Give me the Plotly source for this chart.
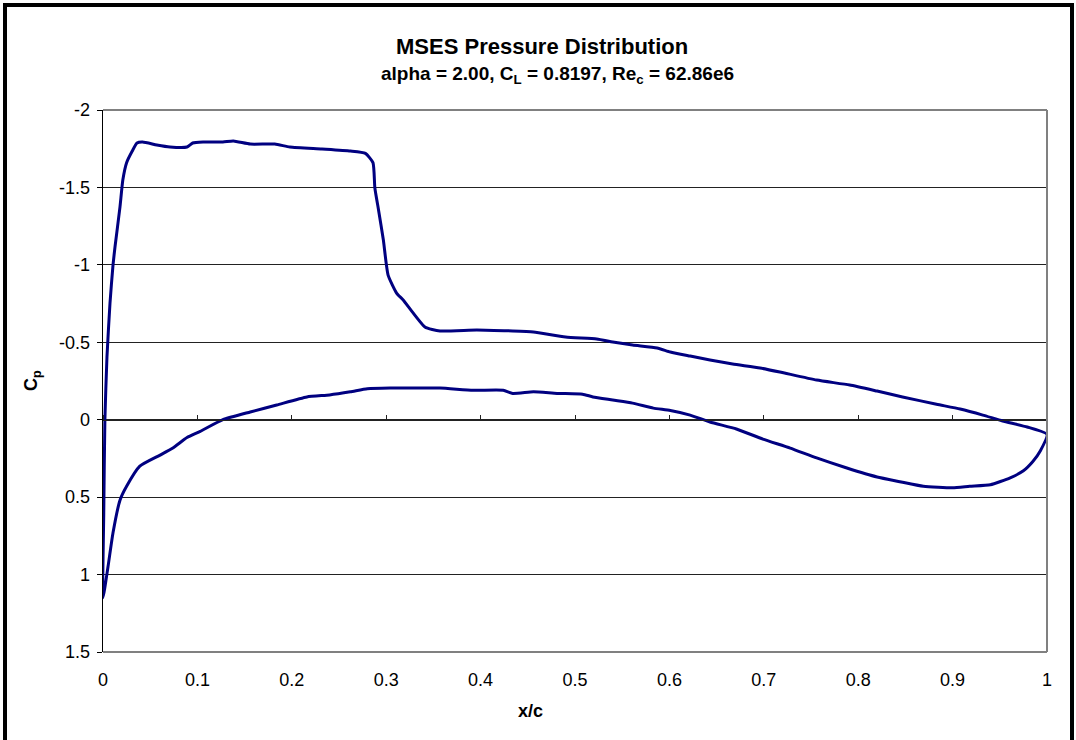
import plotly.graph_objects as go

# Upper surface: trailing edge -> leading edge
x_upper = [1.0, 0.979, 0.953, 0.932, 0.908, 0.883, 0.847, 0.82, 0.791, 0.756, 0.717, 0.696,
           0.667, 0.643, 0.622, 0.601, 0.587, 0.561, 0.540, 0.523, 0.49, 0.456, 0.434, 0.396,
           0.357, 0.341, 0.318, 0.311, 0.302, 0.297, 0.292, 0.288, 0.286, 0.278, 0.262, 0.232,
           0.198, 0.182, 0.156, 0.138, 0.127, 0.106, 0.095, 0.089, 0.071, 0.057, 0.042, 0.036,
           0.031, 0.025, 0.021, 0.018, 0.0127, 0.0106, 0.0074, 0.0042, 0.002, 0.0008, 0.0]
cp_upper = [0.095, 0.047, 0.008, -0.03, -0.069, -0.10, -0.147, -0.185, -0.224, -0.256, -0.308, -0.334,
            -0.36, -0.386, -0.411, -0.437, -0.463, -0.482, -0.502, -0.521, -0.534, -0.566, -0.573, -0.58,
            -0.573, -0.599, -0.773, -0.818, -0.934, -1.16, -1.35, -1.496, -1.66, -1.72, -1.735, -1.748,
            -1.761, -1.78, -1.78, -1.80, -1.793, -1.793, -1.787, -1.761, -1.761, -1.774, -1.793, -1.787,
            -1.735, -1.66, -1.548, -1.374, -1.115, -0.999, -0.753, -0.405, 0.0, 0.6, 1.15]

# Lower surface: leading edge -> trailing edge
x_lower = [0.0053, 0.0106, 0.018, 0.025, 0.039, 0.060, 0.074, 0.089, 0.103, 0.127, 0.156, 0.184,
           0.216, 0.240, 0.262, 0.280, 0.304, 0.325, 0.357, 0.392, 0.424, 0.434, 0.456, 0.481,
           0.508, 0.519, 0.540, 0.561, 0.583, 0.601, 0.622, 0.643, 0.671, 0.699, 0.728, 0.756,
           0.788, 0.82, 0.844, 0.869, 0.90, 0.918, 0.94, 0.961, 0.975, 0.985, 0.993, 1.0]
cp_lower = [0.95, 0.73, 0.52, 0.43, 0.30, 0.23, 0.183, 0.115, 0.075, 0.0, -0.05, -0.095,
            -0.147, -0.16, -0.18, -0.2, -0.205, -0.205, -0.205, -0.19, -0.19, -0.17, -0.18, -0.17,
            -0.165, -0.147, -0.127, -0.107, -0.075, -0.06, -0.03, 0.015, 0.06, 0.125, 0.183, 0.247,
            0.312, 0.37, 0.40, 0.43, 0.44, 0.43, 0.42, 0.375, 0.33, 0.27, 0.2, 0.095]

x_ticks = [0, 0.1, 0.2, 0.3, 0.4, 0.5, 0.6, 0.7, 0.8, 0.9, 1]
x_tick_labels = ["0", "0.1", "0.2", "0.3", "0.4", "0.5", "0.6", "0.7", "0.8", "0.9", "1"]
y_ticks = [-2, -1.5, -1, -0.5, 0, 0.5, 1, 1.5]
y_tick_labels = ["-2", "-1.5", "-1", "-0.5", "0", "0.5", "1", "1.5"]

title_line1 = "MSES Pressure Distribution"
title_line2 = "alpha = 2.00, C<sub>L</sub> = 0.8197, Re<sub>c</sub> = 62.86e6"

x_all = x_upper + x_lower
cp_all = cp_upper + cp_lower

W, H = 1076, 740
PLOT_L, PLOT_R, PLOT_T, PLOT_B = 103, 1047, 110, 652   # plot area in px
LABEL_EDGE = 90                                         # y tick labels' axis position in px
ML, MR, MT, MB = LABEL_EDGE, W - PLOT_R, PLOT_T, H - PLOT_B
pw, ph = W - ML - MR, H - MT - MB
FONT = "Liberation Sans, Arial, sans-serif"

def px2x(px):
    return (px - ML) / pw

def py2y(py):
    return (H - MB - py) / ph

fig = go.Figure()
fig.add_trace(go.Scatter(x=x_all, y=cp_all, mode="lines",
                         line=dict(color="#000080", width=3, shape="spline", smoothing=0.5),
                         hoverinfo="skip", showlegend=False))
# helper trace (invisible) so the overlay axes with ticks/grid render
fig.add_trace(go.Scatter(x=x_all, y=cp_all, mode="lines", xaxis="x2", yaxis="y2",
                         line=dict(color="rgba(0,0,0,0)", width=0), hoverinfo="skip", showlegend=False))

fig.update_layout(
    width=W, height=H,
    margin=dict(l=ML, r=MR, t=MT, b=MB),
    paper_bgcolor="white", plot_bgcolor="white",
    font=dict(family=FONT, size=18, color="black"),
    xaxis=dict(range=[0, 1], domain=[px2x(PLOT_L), 1], tickvals=x_ticks, ticktext=x_tick_labels,
               showgrid=False, zeroline=False, showline=False,
               ticks="outside", ticklen=11, tickcolor="rgba(0,0,0,0)",
               tickfont=dict(size=18)),
    xaxis2=dict(range=[0, 1], domain=[px2x(PLOT_L), 1], tickvals=x_ticks, overlaying="x",
                anchor="free", position=py2y(420), side="top", showticklabels=False,
                showgrid=False, zeroline=False, showline=True, linecolor="#222222", linewidth=1,
                ticks="outside", ticklen=5, tickcolor="#222222", tickwidth=1),
    # labels-only axis, placed a little left of the plot area
    yaxis=dict(range=[1.5, -2], tickvals=y_ticks, ticktext=y_tick_labels,
               anchor="free", position=0, side="left",
               showgrid=False, zeroline=False, showline=False, ticks="",
               tickfont=dict(size=18)),
    # axis line, tick marks and gridlines at the plot area's left edge
    yaxis2=dict(range=[1.5, -2], tickvals=y_ticks, overlaying="y", anchor="x", side="left",
                showticklabels=False, showgrid=True, gridcolor="#222222", gridwidth=1,
                zeroline=False, showline=True, linecolor="black", linewidth=1,
                ticks="outside", ticklen=5, tickcolor="black", tickwidth=1),
    shapes=[
        # plot area gray frame (top, right, bottom)
        dict(type="line", xref="paper", yref="paper", x0=px2x(PLOT_L), x1=1, y0=1, y1=1,
             line=dict(color="#808080", width=2), layer="above"),
        dict(type="line", xref="paper", yref="paper", x0=px2x(PLOT_L), x1=1, y0=0, y1=0,
             line=dict(color="#808080", width=2), layer="above"),
        dict(type="line", xref="paper", yref="paper", x0=1, x1=1, y0=0, y1=1,
             line=dict(color="#808080", width=2), layer="above"),
        # outer chart border
        dict(type="rect", xref="paper", yref="paper",
             x0=px2x(5), x1=px2x(1072), y0=py2y(745), y1=py2y(5),
             line=dict(color="black", width=4), fillcolor="rgba(0,0,0,0)", layer="above"),
    ],
    annotations=[
        dict(text="<b>" + title_line1 + "</b>", xref="paper", yref="paper",
             x=px2x(542), y=py2y(46), showarrow=False, xanchor="center", yanchor="middle",
             font=dict(family=FONT, size=22, color="black")),
        dict(text="<b>" + title_line2 + "</b>", xref="paper", yref="paper",
             x=px2x(557), y=py2y(75), showarrow=False, xanchor="center", yanchor="middle",
             font=dict(family=FONT, size=19, color="black")),
        dict(text="<b>x/c</b>", xref="paper", yref="paper", x=px2x(530), y=py2y(711),
             showarrow=False, xanchor="center", yanchor="middle",
             font=dict(family=FONT, size=18, color="black")),
        dict(text="<b>C<sub>p</sub></b>", xref="paper", yref="paper", x=px2x(32), y=py2y(381),
             showarrow=False, xanchor="center", yanchor="middle", textangle=-90,
             font=dict(family=FONT, size=18, color="black")),
    ],
)

fig.write_html("out.html")
